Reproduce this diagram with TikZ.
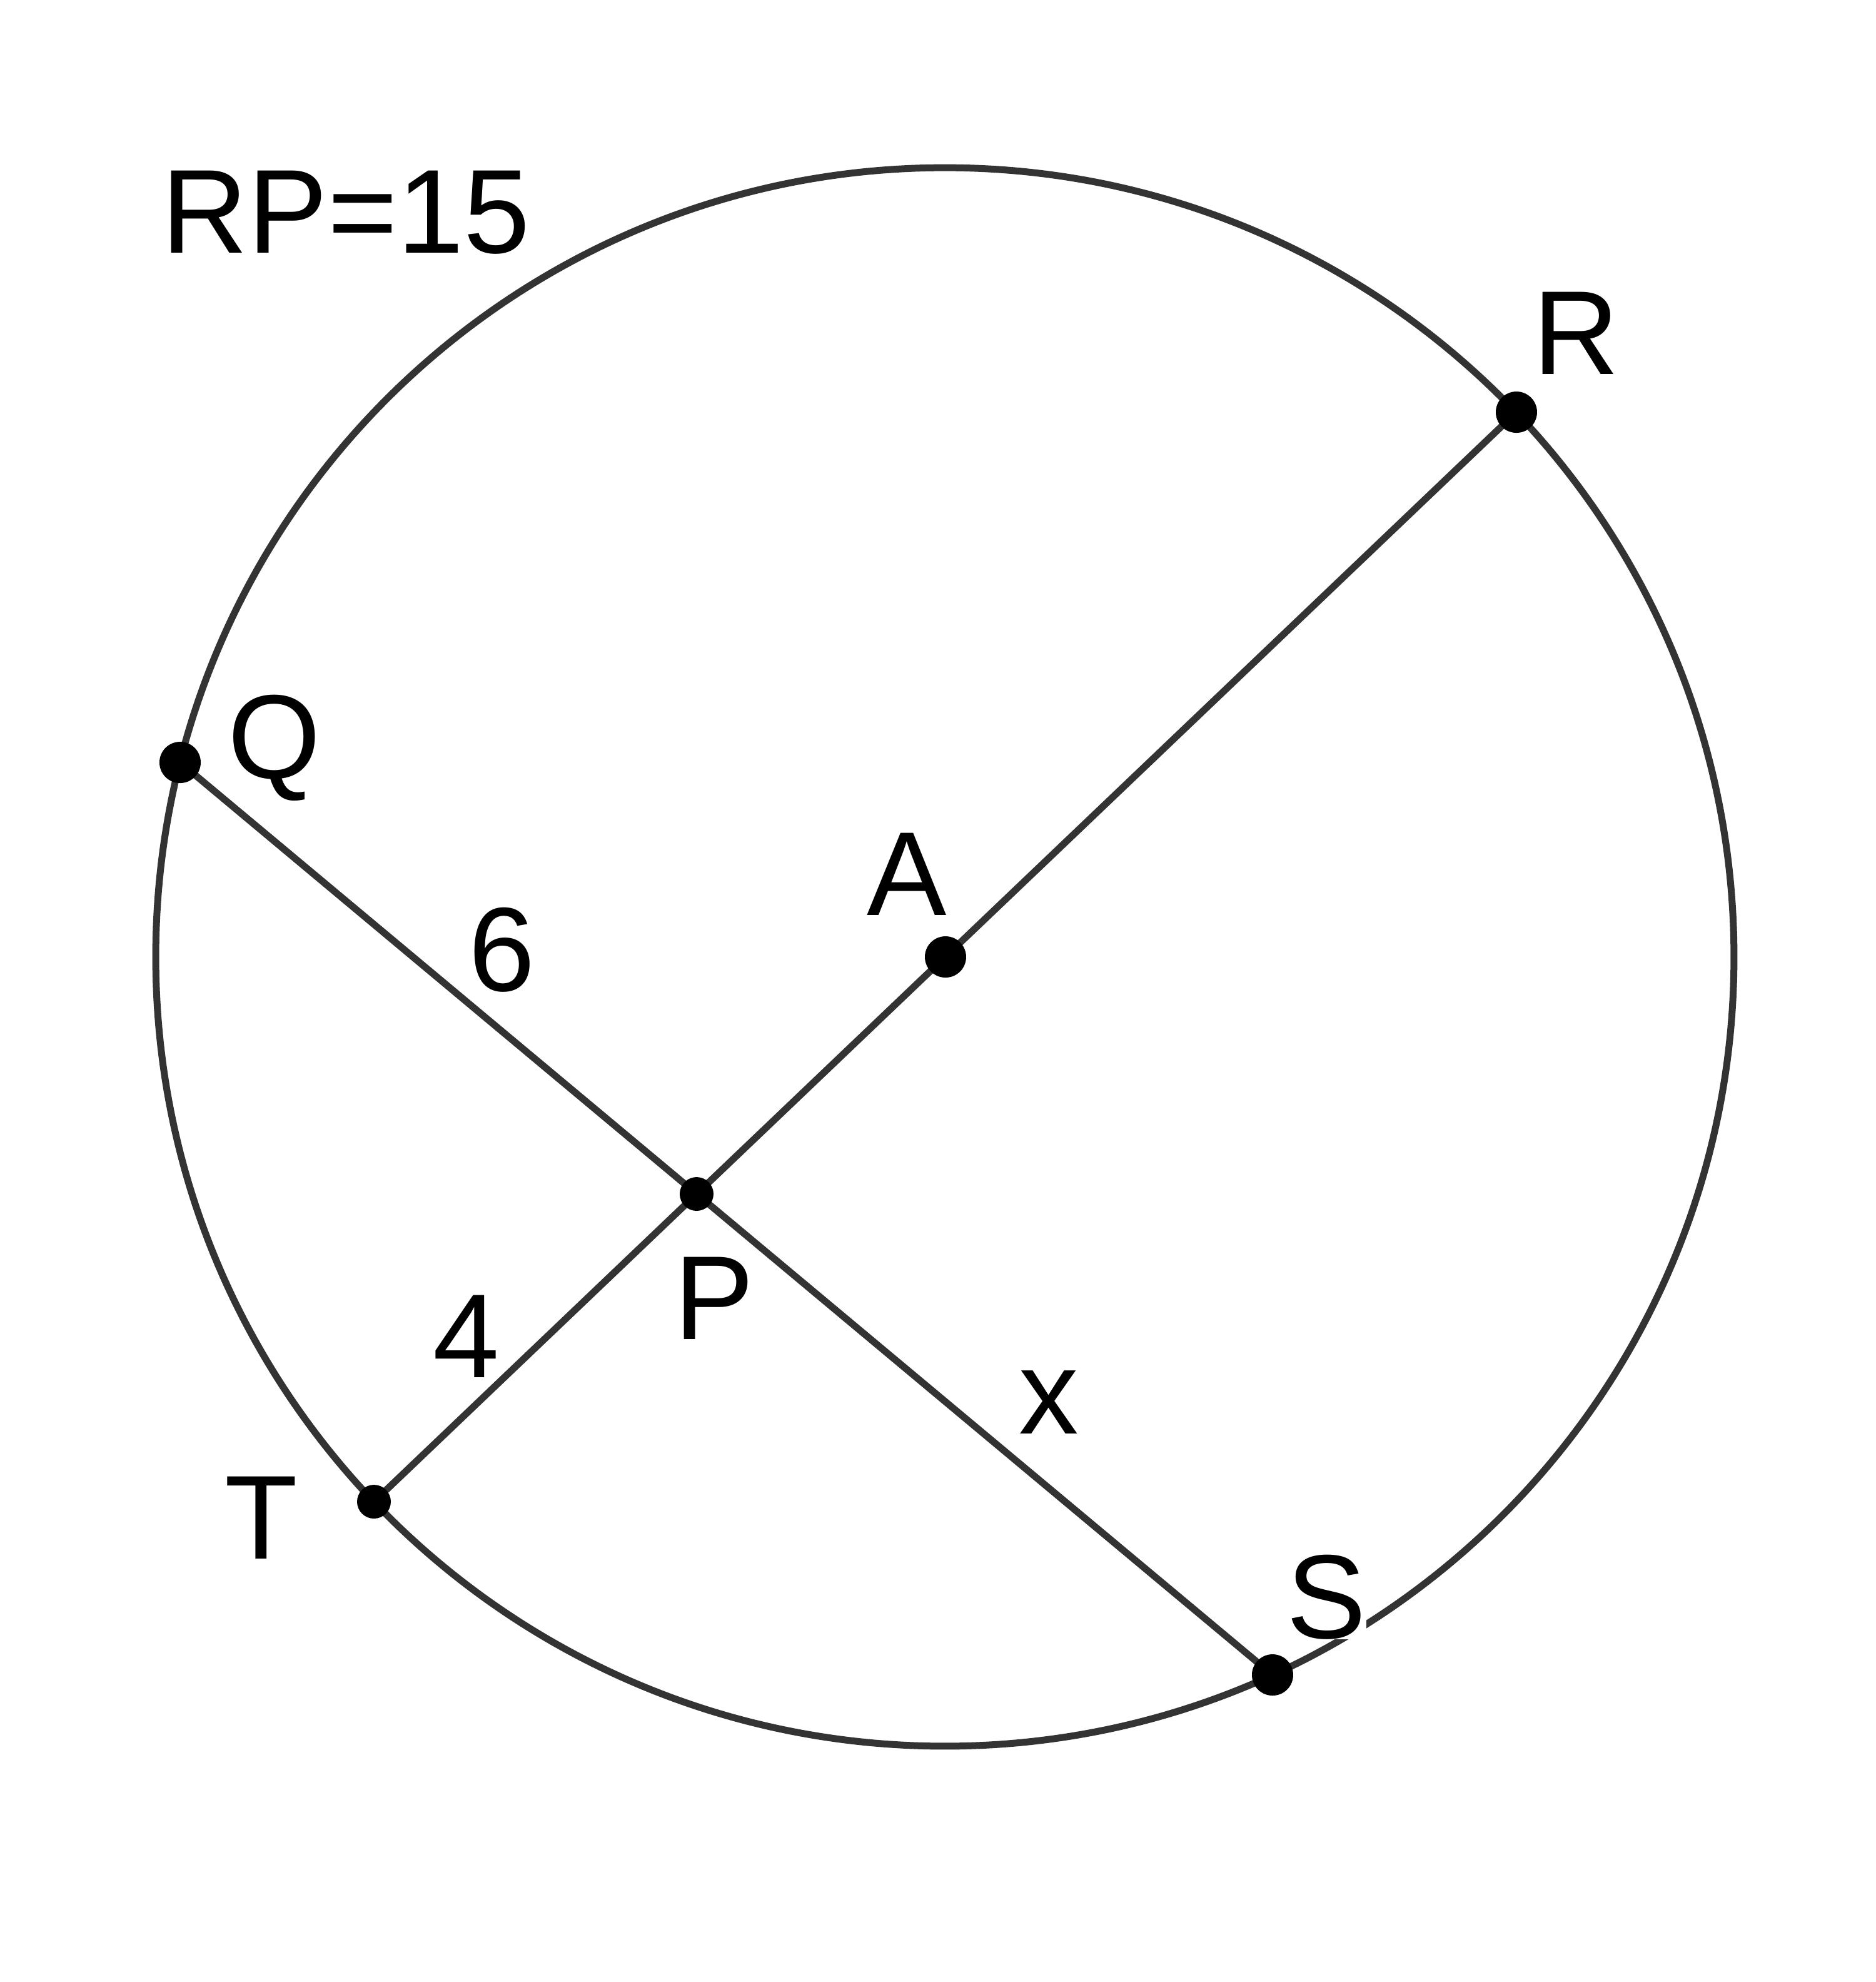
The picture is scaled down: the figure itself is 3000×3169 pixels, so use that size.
\documentclass[tikz,border=0pt]{standalone}
\usepackage{fontspec}
\setmainfont{Liberation Sans}
\definecolor{lc}{HTML}{333333}
\begin{document}
\begin{tikzpicture}[x=0.1pt,y=-0.1pt,
  geo/.style={draw=lc,line width=1.1pt},
  bigdot/.style={fill=black},
  lab/.style={anchor=base west,inner sep=0pt,text=black,font=\fontsize{19.1pt}{22pt}\selectfont}]
\useasboundingbox (0,0) rectangle (3000,3169);
% points
\coordinate (O) at (1511,1530);
\coordinate (R) at (2425,659);
\coordinate (Q) at (288,1219);
\coordinate (A) at (1512,1530);
\coordinate (P) at (1114,1909);
\coordinate (T) at (598,2401);
\coordinate (S) at (2035,2678);
% circle
\draw[geo] (O) circle[radius=126.2pt];
% chords
\draw[geo] (R) -- (T);
\draw[geo] (Q) -- (S);
% dots
\fill[bigdot] (R) circle[radius=3.3pt];
\fill[bigdot] (Q) circle[radius=3.3pt];
\fill[bigdot] (A) circle[radius=3.3pt];
\fill[bigdot] (S) circle[radius=3.3pt];
\fill[bigdot] (P) circle[radius=2.7pt];
\fill[bigdot] (T) circle[radius=2.7pt];
% labels
\node[lab] (lRP) at (257,404) {RP=15};
\node[lab] (lR) at (2450,598) {R};
\node[lab] (lQ) at (363,1244) {Q};
\node[lab] (lA) at (1385,1463) {A};
\node[lab] (lP) at (1077,2141) {P};
\node[lab] (lT) at (357,2492) {T};
\node[lab,fill=white] (lS) at (2056,2619) {S};
\node[lab] (l6) at (748,1584) {6};
\node[lab] (l4) at (690,2202) {4};
\node[lab] (lx) at (1628,2292) {x};
\end{tikzpicture}
\end{document}
